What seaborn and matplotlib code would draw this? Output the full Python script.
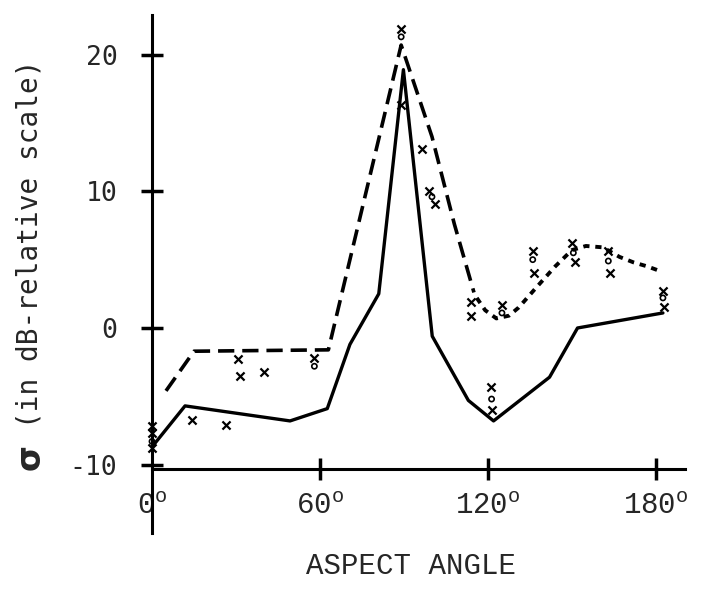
import numpy as np
import pandas as pd
import matplotlib
matplotlib.use("Agg")
import matplotlib.pyplot as plt
import seaborn as sns

# solid curve
solid_angle = [0, 11.8, 49.3, 62.6, 70.7, 81, 89.8, 100.1, 113, 122, 142, 152, 182.5]
solid_db = [-8.7, -5.7, -6.8, -5.9, -1.2, 2.5, 18.9, -0.6, -5.3, -6.8, -3.6, 0.0, 1.1]

# long-dash curve (low aspect + main lobe)
dash_angle = [5, 15, 63, 89, 100, 108, 115]
dash_db = [-4.6, -1.7, -1.6, 20.7, 14.0, 7.6, 2.6]

# short-dash curve (back lobe region)
dot_angle = [116, 119, 123, 127.5, 131, 137, 144, 147.5, 150, 155, 161, 167, 172, 177, 181]
dot_db = [2.2, 1.3, 0.7, 0.9, 1.5, 2.9, 4.5, 5.2, 5.7, 6.0, 5.9, 5.2, 4.8, 4.5, 4.2]

# measured points (x marks)
x_angle = [0, 0, 0, 14.4, 26.6, 30.6, 31.3, 40, 58, 89, 89, 96.5, 99, 101,
           114, 114, 125, 136, 136.5, 150, 151, 163, 163.5, 182.5, 183, 121, 121.5]
x_db = [-7.2, -7.7, -8.8, -6.7, -7.1, -2.3, -3.5, -3.2, -2.2, 21.9, 16.3, 13.1, 10.0, 9.1,
        1.9, 0.9, 1.7, 5.6, 4.0, 6.2, 4.8, 5.6, 4.0, 2.7, 1.5, -4.3, -6.0]

# measured points (circles)
o_angle = [0, 58, 89, 100, 125, 136, 150.5, 163, 182.5, 121.3]
o_db = [-8.3, -2.8, 21.3, 9.6, 1.1, 5.0, 5.5, 4.9, 2.2, -5.2]

xtick_vals = [0, 60, 120, 180]
ytick_vals = [-10, 0, 10, 20]

sns.set_style("ticks")
plt.rcParams["mathtext.fontset"] = "custom"
plt.rcParams["mathtext.rm"] = "Liberation Mono"
plt.rcParams["mathtext.it"] = "Liberation Mono"

solid = pd.DataFrame({"angle": solid_angle, "db": solid_db})
dash = pd.DataFrame({"angle": dash_angle, "db": dash_db})
dot = pd.DataFrame({"angle": dot_angle, "db": dot_db})
xpts = pd.DataFrame({"angle": x_angle, "db": x_db})
opts = pd.DataFrame({"angle": o_angle, "db": o_db})

fig = plt.figure(figsize=(7.09, 5.97), dpi=100)
ax = fig.add_axes([0.2144, 0.1072, 0.7518, 0.8677])

sns.lineplot(data=solid, x="angle", y="db", ax=ax, color="black", lw=2.4,
             sort=False, estimator=None)
sns.lineplot(data=dash, x="angle", y="db", ax=ax, color="black", lw=2.6,
             sort=False, estimator=None, linestyle=(0, (4.5, 2.2)))
sns.lineplot(data=dot, x="angle", y="db", ax=ax, color="black", lw=2.8,
             sort=False, estimator=None, linestyle=(0, (1.6, 1.5)))
sns.scatterplot(data=xpts, x="angle", y="db", ax=ax, marker="x", color="black",
                s=34, linewidth=1.6, clip_on=False, zorder=5)
sns.scatterplot(data=opts, x="angle", y="db", ax=ax, marker="o", facecolor="none",
                edgecolor="black", s=14, linewidth=1.2, clip_on=False, zorder=5)

ax.set_xlim(0, 190.4)
ax.set_ylim(-15, 22.9)

for side in ["top", "right"]:
    ax.spines[side].set_visible(False)
ax.spines["bottom"].set_position(("data", -10.3))
for side in ["left", "bottom"]:
    ax.spines[side].set_linewidth(2.2)
    ax.spines[side].set_color("black")

ax.set_xticks(xtick_vals)
ax.set_xticklabels([r"$\mathrm{%d}^{\mathrm{o}}$" % v for v in xtick_vals],
                   fontsize=21)
ax.set_yticks(ytick_vals)
ax.set_yticklabels([str(v) for v in ytick_vals], fontsize=19, family="DejaVu Sans Mono")
ax.tick_params(axis="both", direction="inout", length=16, width=2.5, color="black",
               bottom=True, left=True)
ax.tick_params(axis="x", pad=9)
ax.tick_params(axis="y", pad=17)
ax.xaxis.get_major_ticks()[0].tick1line.set_visible(False)

ax.set_xlabel("")
ax.set_ylabel("")
fig.text(0.58, 0.052, "ASPECT ANGLE", ha="center", va="center", fontsize=21,
         family="Liberation Mono")
fig.text(0.042, 0.592, "(in dB-relative scale)", rotation=90, ha="center", va="center",
         fontsize=20, family="DejaVu Sans Mono")
fig.text(0.042, 0.235, "σ", rotation=90, ha="center", va="center",
         fontsize=24, fontweight="bold", family="DejaVu Sans")

fig.savefig("out.png", dpi=100)
